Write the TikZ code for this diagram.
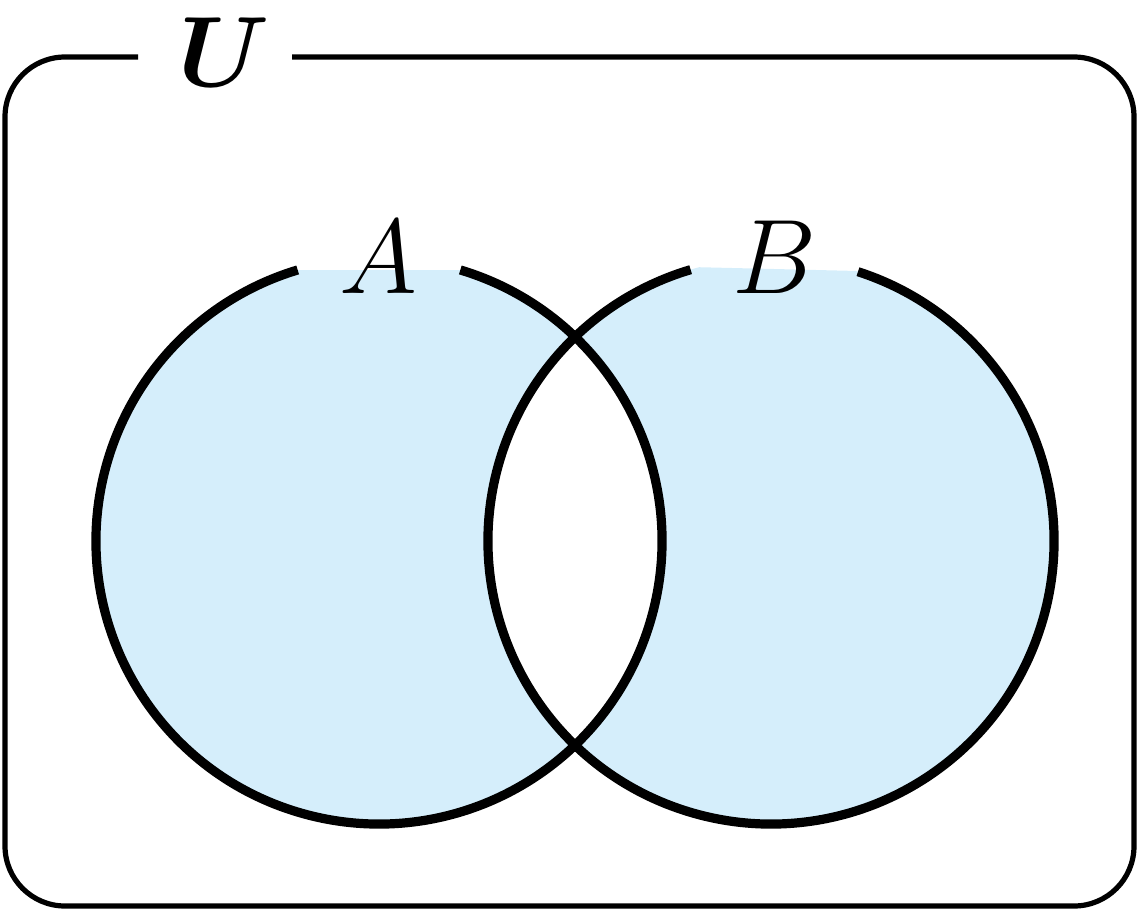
\RequirePackage{fix-cm}
\documentclass[tikz,border=0pt]{standalone}
\usepackage{amsmath,bm}
\definecolor{vennblue}{RGB}{213,238,251}
\tikzset{
  setline/.style={line width=4.6pt},
  frameline/.style={line width=2.6pt, rounded corners=30pt},
  setlabel/.style={inner sep=0pt, anchor=base, font=\fontsize{53}{60}\selectfont},
  unilabel/.style={inner sep=0pt, anchor=base, font=\fontsize{50}{58}\selectfont},
}
\begin{document}
\begin{tikzpicture}[x=0.5pt,y=-0.5pt]
\useasboundingbox (0,0) rectangle (1139,910);
\coordinate (cA) at (379,541);
\coordinate (cB) at (771,541);
% shaded symmetric difference
\begin{scope}
  \clip (0,910) -- (0,270) -- (600,270) -- (690,267) -- (858,271) -- (1139,271) -- (1139,910) -- cycle;
  \fill[vennblue, even odd rule] (cA) circle[radius=283] (cB) circle[radius=283];
\end{scope}
% circles with gaps for labels
\draw[setline] ([shift={(-73.3:283)}]cA) arc[start angle=-73.3, end angle=253.3, radius=283];
\draw[setline] ([shift={(-72.1:283)}]cB) arc[start angle=-72.1, end angle=253.5, radius=283];
% universe frame
\coordinate (gR) at (292,57);
\coordinate (gL) at (138,57);
\draw[frameline] (gR) -- (1134,57) -- (1134,906) -- (5,906) -- (5,57) -- (gL);
% labels
\node[setlabel] (lA) at (378,293) {$A$};
\node[setlabel] (lB) at (775,293) {$B$};
\node[unilabel] (lU) at (224,86) {$\bm{U}$};
\end{tikzpicture}
\end{document}
